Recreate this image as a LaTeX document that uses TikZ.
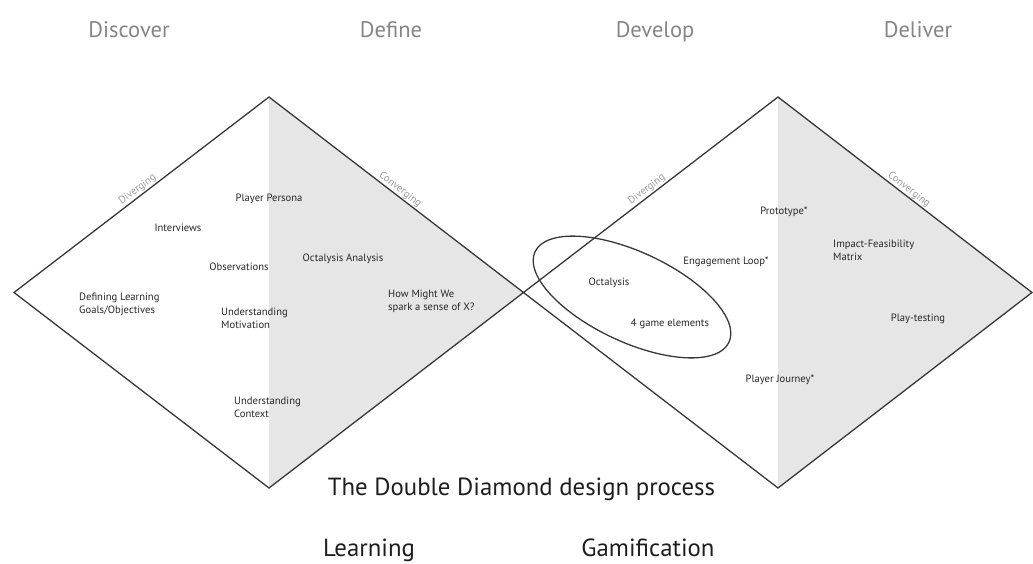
\documentclass[tikz,border=0pt]{standalone}
\usepackage{fontspec}
\setmainfont{PT Sans}
\usetikzlibrary{shapes.geometric}
\definecolor{edgeink}{HTML}{383838}
\definecolor{halffill}{HTML}{E6E6E7}
\definecolor{headink}{HTML}{858585}
\definecolor{tagink}{HTML}{9C9C9C}
\definecolor{labelink}{HTML}{262626}
\definecolor{titleink}{HTML}{1E1E1E}
\begin{document}
\begin{tikzpicture}[x=1pt,y=-1pt,
  edge/.style={draw=edgeink,line width=1.3pt,line join=miter},
  half/.style={fill=halffill,draw=none},
  phase/.style={font=\fontsize{22.5}{26}\selectfont,text=headink,inner sep=0pt,anchor=base},
  tag/.style={font=\fontsize{10.5}{12}\selectfont,text=tagink,sloped,above,inner sep=1pt},
  item/.style={font=\fontsize{10.6}{13}\selectfont,text=labelink,inner sep=0pt,align=left},
  itemw/.style={item,anchor=west},
  caption/.style={font=\fontsize{24.8}{28}\selectfont,text=titleink,inner sep=0pt,anchor=base},
  loop/.style={draw=edgeink,line width=1.3pt,ellipse,inner sep=0pt}]
\useasboundingbox (0,0) rectangle (1033,563);

% diamond corners
\coordinate (L)  at (14,292.5);
\coordinate (T)  at (269,97);
\coordinate (B)  at (269,488);
\coordinate (M)  at (523.5,292.5);
\coordinate (T2) at (778,97);
\coordinate (B2) at (778,488);
\coordinate (R2) at (1032,292.5);

% shaded converging halves
\fill[half] (T) -- (M) -- (B) -- cycle;
\fill[half] (T2) -- (R2) -- (B2) -- cycle;

% the two diamonds
\draw[edge] (L) -- node[tag]{Diverging} (T) -- node[tag]{Converging} (M) -- (B) -- cycle;
\draw[edge] (M) -- node[tag]{Diverging} (T2) -- node[tag]{Converging} (R2) -- (B2) -- cycle;

% grouping ellipse
\node[loop,minimum width=214pt,minimum height=90pt,rotate=-25] (grp) at (632,297) {};

% phase headings
\node[phase] (discover) at (129,37) {Discover};
\node[phase] (define)   at (391,37) {Define};
\node[phase] (develop)  at (655,37) {Develop};
\node[phase] (deliver)  at (918,37) {Deliver};

% first diamond
\node[item]  (persona)  at (269,199) {Player Persona};
\node[item]  (interv)   at (178,228) {Interviews};
\node[item]  (observ)   at (239,267) {Observations};
\node[item]  (octan)    at (343,259) {Octalysis Analysis};
\node[itemw] (goals)    at (79,304)  {Defining Learning\\Goals/Objectives};
\node[itemw] (motiv)    at (221,318) {Understanding\\Motivation};
\node[itemw] (hmw)      at (388,301) {How Might We\\spark a sense of X?};
\node[itemw] (context)  at (234,407) {Understanding\\Context};

% second diamond
\node[item]  (proto)    at (784,212) {Prototype*};
\node[itemw] (matrix)   at (833,250) {Impact-Feasibility\\Matrix};
\node[item]  (engage)   at (726,262) {Engagement Loop*};
\node[item]  (octa)     at (609,283) {Octalysis};
\node[item]  (elements) at (670,324) {4 game elements};
\node[item]  (playtest) at (918,318.5) {Play-testing};
\node[item]  (journey)  at (780,380) {Player Journey*};

% captions
\node[caption] (title) at (521.5,495) {The Double Diamond design process};
\node[caption] (learn) at (369,556) {Learning};
\node[caption] (gamif) at (648,556) {Gamification};
\end{tikzpicture}
\end{document}
